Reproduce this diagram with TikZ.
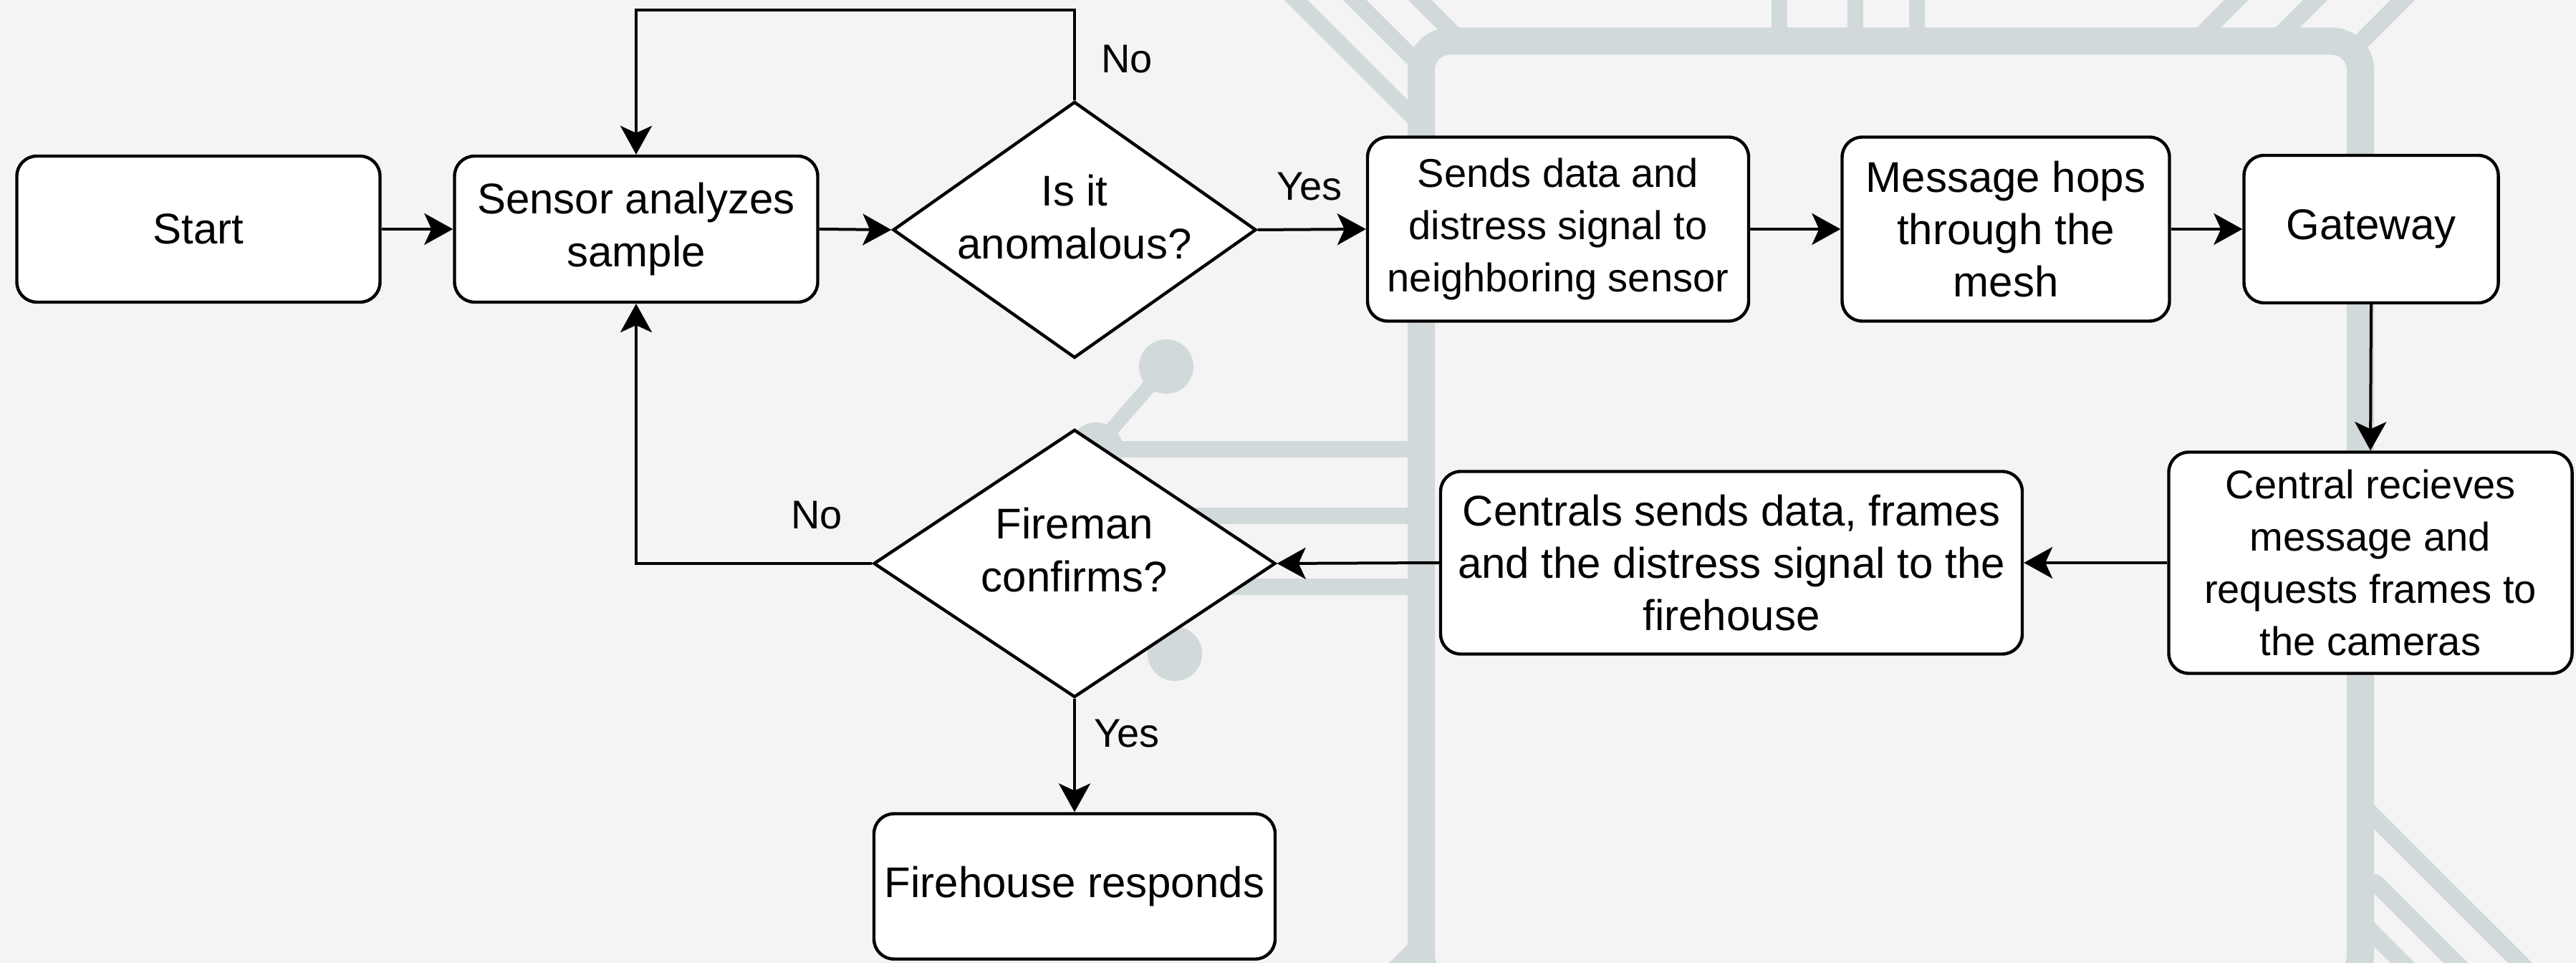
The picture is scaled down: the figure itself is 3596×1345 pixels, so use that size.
\documentclass[tikz,border=0pt]{standalone}
\usepackage{fontspec}
\setmainfont{Liberation Sans}
\usetikzlibrary{arrows.meta,shapes.geometric}
\definecolor{bgc}{RGB}{244,244,244}
\definecolor{trc}{RGB}{209,217,219}
\tikzset{
  box/.style={draw=black, line width=1.1pt, fill=white, rounded corners=7pt, inner sep=0pt, align=center, font=\fontsize{15pt}{18.3pt}\selectfont},
  sbox/.style={box, font=\fontsize{14pt}{18.2pt}\selectfont},
  dia/.style={draw=black, line width=1.1pt, fill=white, diamond, inner sep=0pt},
  diatext/.style={inner sep=0pt, align=center, font=\fontsize{15pt}{18.3pt}\selectfont},
  arr/.style={draw=black, line width=1pt, -{Stealth[length=10pt,width=11pt,inset=2.5pt]}},
  lbl/.style={inner sep=0pt, font=\fontsize{14pt}{17pt}\selectfont},
  trace/.style={draw=trc, line cap=butt},
}
\begin{document}
\begin{tikzpicture}[x=0.25pt, y=-0.25pt]
\fill[bgc] (0,0) rectangle (3596,1345);
\useasboundingbox (0,0) rectangle (3596,1345);
% background circuit traces
\begin{scope}
\clip (0,0) rectangle (3596,1345);
\draw[trace, line width=9.5pt, rounded corners=10pt] (1984,57.5) rectangle (3295,1375);
\draw[trace, line width=5.75pt] (1800,-9) -- (1983,174);
\draw[trace, line width=5.75pt] (1882,-9) -- (1972,81);
\draw[trace, line width=5.75pt] (1973,-9) -- (2040,58);
\draw[trace, line width=5.5pt] (2484,-10) -- (2484,57);
\draw[trace, line width=5.5pt] (2590,-10) -- (2590,57);
\draw[trace, line width=5.5pt] (2676,-10) -- (2676,57);
\draw[trace, line width=6pt, line cap=round] (3132,-10) -- (3077,45);
\draw[trace, line width=6pt, line cap=round] (3242,-10) -- (3187,45);
\draw[trace, line width=6pt] (3364,-10) -- (3297,57);
\draw[trace, line width=5.75pt] (1530,628) -- (1984,628);
\draw[trace, line width=5.75pt] (1560,721) -- (1984,721);
\draw[trace, line width=5.75pt] (1560,820) -- (1984,820);
\draw[trace, line width=5pt] (1530,625) -- (1628,512);
\fill[trc] (1628,512) circle (9.5pt);
\fill[trc] (1530,628) circle (9.5pt);
\fill[trc] (1640,913) circle (9.5pt);
\draw[trace, line width=6pt] (3295,1122) -- (3540,1367);
\draw[trace, line width=6pt, line cap=round] (3316,1233) -- (3440,1357);
\draw[trace, line width=6pt] (3295,1286) -- (3370,1361);
\draw[trace, line width=6pt] (1983,1318) -- (1900,1401);
\end{scope}
% nodes
\node[box, minimum width=126.75pt, minimum height=51pt] (start) at (277,320) {Start};
\node[box, minimum width=126.75pt, minimum height=51pt] (sensor) at (888,320) {Sensor analyzes\\sample};
\node[dia, minimum width=126.75pt, minimum height=89.5pt] (d1) at (1500,321) {};
\node[diatext] (d1t) at (1500,303) {Is it\\anomalous?};
\node[sbox, minimum width=133pt, minimum height=64.25pt] (sends) at (2175,320) {Sends data and\\distress signal to\\neighboring sensor};
\node[box, minimum width=114.25pt, minimum height=64.25pt] (mesh) at (2800,320) {Message hops\\through the\\mesh};
\node[box, minimum width=88.75pt, minimum height=51.5pt] (gw) at (3310,320) {Gateway};
\node[sbox, minimum width=140.75pt, minimum height=77.25pt] (central) at (3309,786) {Central recieves\\message and\\requests frames to\\the cameras};
\node[box, minimum width=203pt, minimum height=63.75pt] (centrals) at (2417,786) {Centrals sends data, frames\\and the distress signal to the\\firehouse};
\node[dia, minimum width=140.25pt, minimum height=93.5pt] (fire) at (1500,787) {};
\node[diatext] (firet) at (1500,768) {Fireman\\confirms?};
\node[box, minimum width=140pt, minimum height=50.75pt] (fh) at (1500,1238) {Firehouse responds};
% connectors
\coordinate (ltop) at (888,14);
\draw[arr] (start.east) -- (sensor.west);
\draw[arr] (sensor.east) -- (d1.west);
\draw[arr] (d1.east) -- (sends.west);
\draw[arr] (sends.east) -- (mesh.west);
\draw[arr] (mesh.east) -- (gw.west);
\draw[arr] (gw.south) -- (central.north);
\draw[arr] (central.west) -- (centrals.east);
\draw[arr] (centrals.west) -- (fire.east);
\draw[arr] (fire.south) -- (fh.north);
\draw[arr] (d1.north) |- (ltop) -- (sensor.north);
\draw[arr] (fire.west) -| (sensor.south);
% labels
\node[lbl] (lno1) at (1573,83) {No};
\node[lbl] (lyes1) at (1828,261) {Yes};
\node[lbl] (lno2) at (1140,720) {No};
\node[lbl] (lyes2) at (1573,1025) {Yes};
\end{tikzpicture}
\end{document}
